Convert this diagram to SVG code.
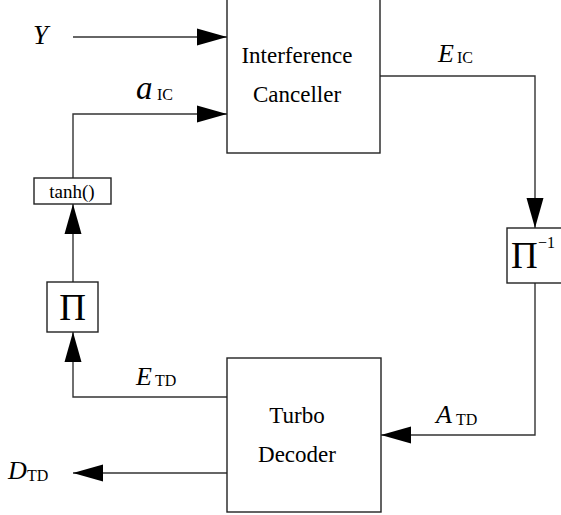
<svg xmlns="http://www.w3.org/2000/svg" width="561" height="515" viewBox="0 0 561 515">
<defs>
<marker id="ah" markerUnits="userSpaceOnUse" markerWidth="30" markerHeight="17" refX="30" refY="8.5" orient="auto" overflow="visible">
<path d="M0,0 L30,8.5 L0,17 Z" fill="#000"/>
</marker>
</defs>
<rect width="561" height="515" fill="#fff"/>
<g id="connectors" fill="none" stroke="#333" stroke-width="1.4">
<line x1="73" y1="37" x2="227" y2="37" marker-end="url(#ah)"/>
<polyline points="73,178 73,114 227,114" marker-end="url(#ah)"/>
<polyline points="380,76 535,76 535,228" marker-end="url(#ah)"/>
<polyline points="535,283 535,435 381,435" marker-end="url(#ah)"/>
<line x1="227" y1="473" x2="73" y2="473" marker-end="url(#ah)"/>
<polyline points="227,397 73,397 73,332" marker-end="url(#ah)"/>
<line x1="73" y1="282" x2="73" y2="204" marker-end="url(#ah)"/>
</g>
<g id="interference-canceller">
<rect x="227" y="-2" width="153" height="155" fill="#fff" stroke="#222" stroke-width="1.4"/>
<text x="297" y="63" font-size="23" text-anchor="middle" font-family="'Liberation Serif'">Interference</text>
<text x="297" y="102" font-size="23" text-anchor="middle" font-family="'Liberation Serif'">Canceller</text>
</g>
<g id="turbo-decoder">
<rect x="227" y="358" width="154" height="154" fill="#fff" stroke="#222" stroke-width="1.4"/>
<text x="297" y="423" font-size="23" text-anchor="middle" font-family="'Liberation Serif'">Turbo</text>
<text x="297" y="462" font-size="23" text-anchor="middle" font-family="'Liberation Serif'">Decoder</text>
</g>
<g id="deinterleaver">
<rect x="507" y="228" width="56" height="55" fill="#fff" stroke="#222" stroke-width="1.4"/>
<text x="511" y="268" font-size="37" font-family="'Liberation Serif'">Π</text>
<text x="538" y="248" font-size="16" font-family="'Liberation Serif'">−1</text>
</g>
<g id="interleaver">
<rect x="47" y="282" width="51" height="50" fill="#fff" stroke="#222" stroke-width="1.4"/>
<text x="72.5" y="320" font-size="37" text-anchor="middle" font-family="'Liberation Serif'">Π</text>
</g>
<g id="tanh">
<rect x="34" y="178" width="77" height="26" fill="#fff" stroke="#222" stroke-width="1.4"/>
<text x="72" y="198" font-size="19" text-anchor="middle" font-family="'Liberation Serif'">tanh()</text>
</g>
<g id="labels">
<text x="33" y="44" font-size="27" font-style="italic" font-family="'Liberation Serif'">Y</text>
<text x="136" y="99" font-size="33" font-style="italic" font-family="'Liberation Serif'">a</text>
<text x="157" y="100" font-size="16" font-family="'Liberation Serif'">IC</text>
<text x="438" y="62" font-size="26" font-style="italic" font-family="'Liberation Serif'">E</text>
<text x="457" y="63" font-size="16" font-family="'Liberation Serif'">IC</text>
<text x="136" y="385" font-size="26" font-style="italic" font-family="'Liberation Serif'">E</text>
<text x="155" y="386" font-size="16" font-family="'Liberation Serif'">TD</text>
<text x="436" y="423" font-size="26" font-style="italic" font-family="'Liberation Serif'">A</text>
<text x="456" y="425" font-size="16" font-family="'Liberation Serif'">TD</text>
<text x="8" y="479" font-size="26" font-style="italic" font-family="'Liberation Serif'">D</text>
<text x="27" y="481" font-size="16" font-family="'Liberation Serif'">TD</text>
</g>
</svg>
